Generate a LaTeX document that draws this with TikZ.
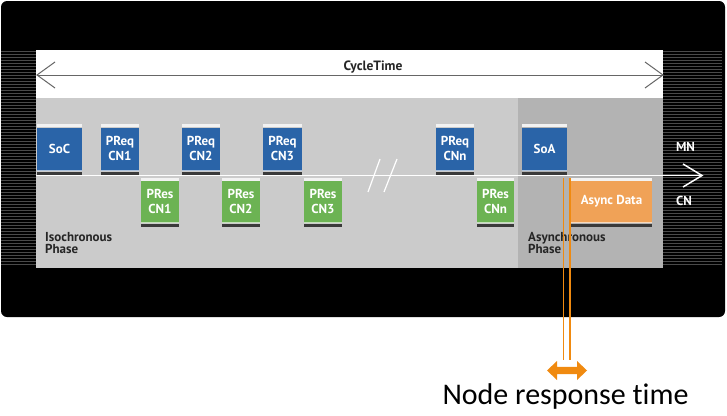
\documentclass[tikz,border=0pt]{standalone}
\usepackage{fontspec}
\setmainfont{Carlito}[Ligatures=NoCommon]
\newfontfamily\lblfont{PT Sans}
\definecolor{mblue}{HTML}{2A64A8}
\definecolor{mgreen}{HTML}{6CB353}
\definecolor{morange}{HTML}{F0A257}
\definecolor{oline}{HTML}{F08A10}
\definecolor{lgray}{HTML}{CBCBCB}
\definecolor{dgray}{HTML}{B3B3B3}
\definecolor{topstrip}{HTML}{F2F2F2}
\definecolor{botstrip}{HTML}{3A3A3A}
\definecolor{stripe}{HTML}{4A4A4A}
\tikzset{
  boxtext/.style={text=white,font=\lblfont\bfseries\fontsize{13}{15.5}\selectfont,align=center,inner sep=0pt},
  phasetext/.style={text=black!85,font=\lblfont\bfseries\fontsize{13}{12.5}\selectfont,align=left,anchor=north west,inner sep=0pt},
  sidetext/.style={text=white,font=\lblfont\bfseries\fontsize{13}{12}\selectfont,inner sep=0pt},
  openarrow/.style={line width=1pt},
  orangeline/.style={draw=oline,line width=1.3pt},
}
% name, x1, x2, top, bottom, colour, text
\newcommand\msgframe[7]{%
  \fill[topstrip] (#2,#4-3.5) rectangle (#3,#4-0.3);
  \node[boxtext,fill=#6,minimum width={(#3-#2)*1pt},minimum height={(#5-#4)*1pt}] (#1) at ({(#2+#3)/2},{(#4+#5)/2}) {#7};
  \fill[#6!40!white] (#2,#5) rectangle (#3,#5+1);
  \fill[botstrip] (#2,#5+2) rectangle (#3,#5+5);
}
\begin{document}
\begin{tikzpicture}[x=1pt,y=-1pt]
\useasboundingbox (0,0) rectangle (727,415);
% frame
\fill[black,rounded corners=6pt] (1,1) rectangle (725,317);
% stripes
\foreach \y in {51,54,...,266}{
  \fill[stripe] (0.5,\y) rectangle (36,\y+1.4);
  \fill[stripe] (663,\y) rectangle (722,\y+1.4);
}
% bands
\fill[white] (36,50) rectangle (663,98);
\fill[lgray] (36,98) rectangle (518,268);
\fill[dgray] (518,98) rectangle (663,268);
% cycle time arrow
\coordinate (ctl) at (37,75);
\coordinate (ctr) at (663,75);
\draw[black!60,line width=1pt] (ctl) -- (ctr);
\draw[black!60,openarrow] (55,62) -- (ctl) -- (55,88);
\draw[black!60,openarrow] (645,62) -- (ctr) -- (645,88);
\node[text=black!85,font=\lblfont\bfseries\fontsize{13.5}{14}\selectfont,inner sep=0pt] (ct) at (373,67) {CycleTime};
% timeline
\coordinate (tl) at (36,175.5);
\coordinate (tr) at (702,175.5);
\draw[white,line width=1.8pt] (tl) -- (tr);
\draw[white,line width=1.5pt] (683,164) -- (tr) -- (683,187);
% break marks
\draw[white,line width=1.2pt] (368,192) -- (380,159);
\draw[white,line width=1.2pt] (384,192) -- (397,159);
% boxes
\msgframe{soc}{37}{82}{127.5}{169.5}{mblue}{SoC}
\msgframe{preq1}{101}{139}{127.5}{169.5}{mblue}{PReq\\CN1}
\msgframe{preq2}{182}{220}{127.5}{169.5}{mblue}{PReq\\CN2}
\msgframe{preq3}{263}{302}{127.5}{169.5}{mblue}{PReq\\CN3}
\msgframe{preqn}{436}{474}{127.5}{169.5}{mblue}{PReq\\CNn}
\msgframe{soa}{522}{567}{127.5}{169.5}{mblue}{SoA}
\msgframe{pres1}{141}{179}{181}{221.5}{mgreen}{PRes\\CN1}
\msgframe{pres2}{222}{260}{181}{221.5}{mgreen}{PRes\\CN2}
\msgframe{pres3}{304}{342}{181}{221.5}{mgreen}{PRes\\CN3}
\msgframe{presn}{477}{514}{181}{221.5}{mgreen}{PRes\\CNn}
\msgframe{async}{571}{652}{181}{221.5}{morange}{Async Data}
% side labels
\node[sidetext] (mn) at (685.5,147) {MN};
\node[sidetext] (cn) at (684,201) {CN};
% phase labels
\node[phasetext] (iso) at (45,232) {Isochronous\\Phase};
\node[phasetext] (asy) at (528,232) {Asynchronous\\Phase};
% node response time
\coordinate (o1t) at (563.5,178);
\coordinate (o1b) at (563.5,360);
\coordinate (o2t) at (570,178);
\coordinate (o2b) at (570,360);
\draw[orangeline] (o1t) -- (o1b);
\draw[orangeline] (o2t) -- (o2b);
\fill[oline] (547,370.5) -- (557,361) -- (557,366.8) -- (577,366.8) -- (577,361) -- (587,370.5)
  -- (577,380) -- (577,374.2) -- (557,374.2) -- (557,380) -- cycle;
\node[font=\fontsize{30}{32}\selectfont,inner sep=0pt,text=black] (nrt) at (565.5,396) {Node response time};
\end{tikzpicture}
\end{document}
